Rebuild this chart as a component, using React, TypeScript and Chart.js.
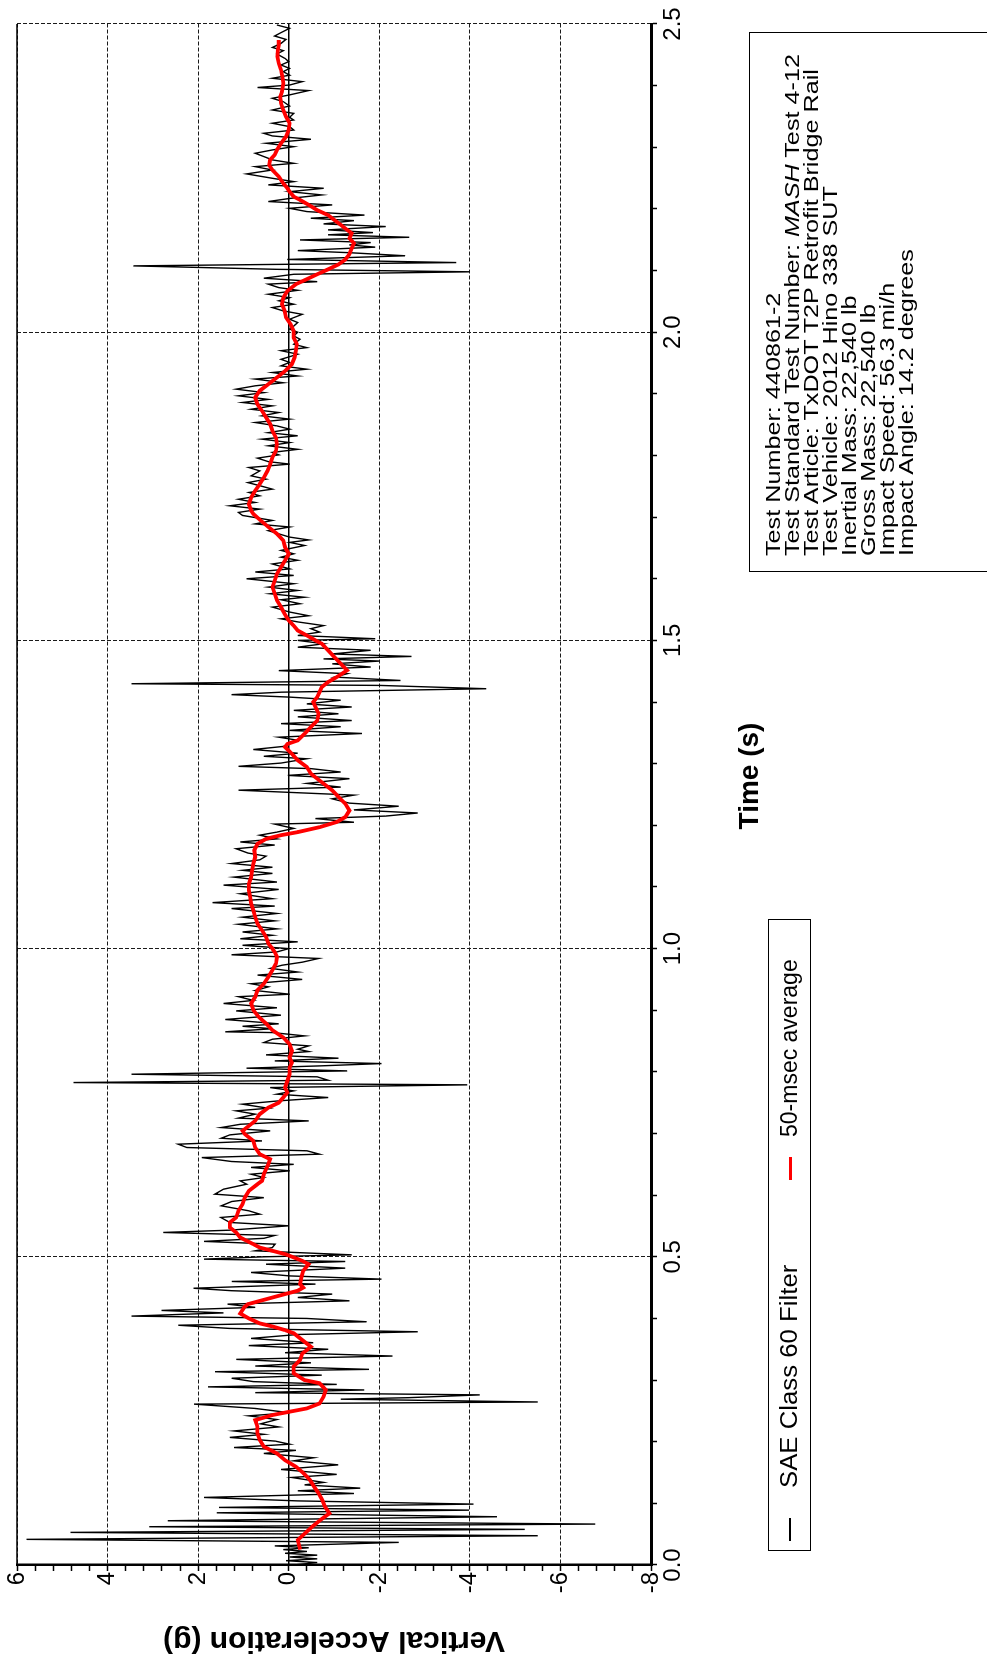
import React, { useEffect, useRef } from "react";
import { Chart, registerables } from "chart.js";

Chart.register(...registerables);

type Pt = [number, number]; // [time (s), vertical acceleration (g)]

// SAE Class 60 filtered vertical acceleration, split by time window
const sae60Part1: Pt[] = [
  [0.000, -0.11], [0.004, -0.63], [0.007, 0.06], [0.010, -0.63], [0.013, -0.02], [0.016, -0.63],
  [0.019, 0.08], [0.022, -0.40], [0.025, 0.12], [0.028, -0.44], [0.031, 0.31], [0.0367, -2.43],
  [0.0416, 5.79], [0.0475, -5.50], [0.0529, 4.82], [0.0578, -5.21], [0.0621, 3.08], [0.0664, -6.77],
  [0.0718, 2.67], [0.0783, -4.60], [0.0826, -0.20], [0.0847, 1.59], [0.089, -3.98], [0.0934, 1.54],
  [0.0988, -4.08], [0.104, -0.20], [0.1096, 1.87], [0.116, -1.44], [0.1204, -0.20], [0.1247, -1.58],
  [0.130, -0.35], [0.134, -0.77], [0.142, -0.07], [0.147, -1.06], [0.155, 0.17], [0.1625, -1.09],
  [0.169, -0.11], [0.174, -0.55], [0.181, 0.55], [0.186, -0.16], [0.1906, 1.21], [0.196, -0.02],
  [0.201, 0.30], [0.207, 1.30], [0.212, 0.55], [0.2175, 1.21], [0.224, 0.22], [0.229, 0.62],
  [0.236, 0.26], [0.242, 0.88], [0.247, -0.02], [0.254, 0.74], [0.261, 2.09], [0.2645, -5.50],
  [0.269, -1.15], [0.2715, -2.66], [0.276, -4.22], [0.2796, 0.74], [0.284, -1.67], [0.289, 1.78],
  [0.293, -1.06], [0.2975, 0.78], [0.303, 1.26], [0.308, -0.73], [0.3136, 1.63], [0.3174, -1.77],
  [0.3228, 0.74], [0.328, -0.49], [0.3336, 1.16], [0.339, -2.29], [0.3444, 0.08], [0.35, -0.87],
  [0.356, 0.88], [0.3606, -0.54], [0.3676, 0.83], [0.374, -0.20], [0.3784, -2.85], [0.3838, 1.30],
  [0.389, 2.44], [0.3946, -1.72], [0.400, -0.40], [0.4038, 3.47], [0.409, 1.44], [0.413, 2.81],
  [0.418, 0.74],
];

const sae60Part2: Pt[] = [
  [0.4232, 1.35], [0.4286, -1.34], [0.434, -0.20], [0.4395, -0.96], [0.445, 1.26], [0.449, 2.10],
  [0.4557, -0.59], [0.460, 1.26], [0.4638, -2.05], [0.469, -0.02], [0.4746, 0.83], [0.4816, -1.25],
  [0.488, 0.50], [0.4924, -1.25], [0.4962, 1.87], [0.500, 0.55], [0.5032, -1.39], [0.5097, 0.74],
  [0.515, 0.36], [0.5205, 0.30], [0.525, 1.87], [0.530, 0.55], [0.5346, 0.31], [0.5395, 2.77],
  [0.5432, 1.30], [0.5503, 0.00], [0.5557, 1.30], [0.5638, 1.50], [0.5692, 0.64], [0.5746, 0.88],
  [0.5827, 1.49], [0.5897, 1.26], [0.596, 0.55], [0.6016, 1.63], [0.6097, 1.44], [0.6178, 0.93],
  [0.6232, 1.07], [0.6286, 0.55], [0.634, 0.83], [0.6395, -0.02], [0.645, 0.83], [0.650, -0.11],
  [0.6546, 1.26], [0.661, 1.92], [0.6665, -0.68], [0.672, -0.40], [0.6773, 2.25], [0.6827, 2.44],
  [0.688, 0.59], [0.6924, 1.49], [0.6978, 1.30], [0.7043, 0.41], [0.7097, 1.49], [0.715, 1.07],
  [0.7205, -0.44], [0.725, 1.11], [0.7314, 0.74], [0.7368, 1.16], [0.741, 0.45], [0.7476, 1.02],
  [0.753, 0.22], [0.7584, -0.87], [0.7638, 0.26], [0.7692, -0.11], [0.7746, 0.41], [0.779, -3.94],
  [0.7827, 4.75], [0.7865, -0.87], [0.792, -0.63], [0.7962, 3.47], [0.8016, -1.29], [0.806, 0.93],
  [0.8097, -0.68], [0.8135, -2.05], [0.8178, 0.31], [0.8222, -1.10], [0.8276, 0.50], [0.833, -0.44],
  [0.8368, -0.20], [0.8422, -0.44], [0.8476, 0.55], [0.853, 0.36], [0.8584, -0.35], [0.8638, 0.36],
];

const sae60Part3: Pt[] = [
  [0.8650, 1.40], [0.870, 0.36], [0.874, 1.02], [0.878, 0.22], [0.885, 1.40], [0.892, 0.17],
  [0.899, 1.16], [0.904, 0.26], [0.911, 1.44], [0.916, 0.78], [0.922, 1.11], [0.926, -0.02],
  [0.932, 0.74], [0.938, 0.45], [0.943, 0.83], [0.950, -0.30], [0.957, 0.69], [0.962, -0.20],
  [0.968, 0.40], [0.973, 0.15], [0.978, -0.30], [0.984, -0.66], [0.990, 1.26], [0.9946, 0.26],
  [1.000, 0.00], [1.0054, 1.02], [1.011, -0.20], [1.016, 1.07], [1.0216, 0.36], [1.027, 1.02],
  [1.032, 0.26], [1.0395, 1.11], [1.045, 0.31], [1.051, 1.02], [1.057, 0.26], [1.065, 1.26],
  [1.069, 0.31], [1.0746, 1.68], [1.081, 0.36], [1.089, 1.07], [1.096, 0.22], [1.103, 1.44],
  [1.108, 0.26], [1.116, 1.21], [1.122, 0.36], [1.127, 1.02], [1.132, 0.36], [1.138, 1.26],
  [1.144, 0.64], [1.150, 0.50], [1.155, 0.90], [1.162, 1.16], [1.168, 0.31], [1.173, 1.07],
  [1.178, 0.26], [1.184, 0.64], [1.189, 0.26], [1.195, -0.11], [1.202, 0.31], [1.205, -1.44],
  [1.211, -0.59], [1.215, -2.14], [1.220, -2.85], [1.225, -1.44], [1.231, -2.43], [1.236, -1.34],
  [1.243, -0.96], [1.249, -1.44], [1.257, 1.11], [1.262, -1.15], [1.268, -0.40],
];

const sae60Part4: Pt[] = [
  [1.2757, -1.34], [1.281, 0.02], [1.2865, -1.15], [1.292, -0.49], [1.2957, 1.11], [1.301, 0.17],
  [1.308, -0.40], [1.312, 0.55], [1.317, -0.20], [1.323, 0.78], [1.328, 0.12], [1.338, -0.20],
  [1.343, 0.22], [1.349, -1.62], [1.354, -0.02], [1.360, -1.15], [1.365, 0.17], [1.370, -1.39],
  [1.376, -0.20], [1.381, -1.10], [1.3865, -0.11], [1.392, -1.39], [1.397, -0.40], [1.403, -1.15],
  [1.408, -0.02], [1.412, 1.26], [1.416, 0.17], [1.4216, -4.36], [1.427, -2.00], [1.4297, 3.47],
  [1.435, -2.47], [1.4405, -1.01], [1.446, -1.29], [1.451, 0.22], [1.4568, -1.81], [1.462, -0.96],
  [1.4665, -2.00], [1.470, -0.77], [1.474, -2.71], [1.478, -0.96], [1.484, -1.81], [1.489, -0.20],
  [1.4946, -0.77], [1.500, -0.20], [1.5027, -1.91], [1.508, -0.20], [1.5135, -0.68], [1.519, -0.49],
  [1.524, -0.77], [1.530, -0.20], [1.535, 0.17], [1.540, -0.44], [1.546, -0.02], [1.554, 0.36],
  [1.5595, -0.25], [1.566, 0.17], [1.570, -0.35], [1.5757, 0.41], [1.581, -0.20], [1.5865, 0.45],
  [1.592, -0.11], [1.600, 0.93], [1.6054, -0.11], [1.611, 0.74], [1.616, -0.02], [1.624, 0.36],
  [1.630, -0.20], [1.635, 0.17], [1.6405, -0.11], [1.646, 0.17], [1.654, -0.35], [1.659, -0.02],
  [1.663, -0.44], [1.6676, -0.02], [1.678, 0.45], [1.684, -0.02], [1.689, 0.74], [1.6946, 0.36],
  [1.7027, 1.02],
];

const sae60Part5: Pt[] = [
  [1.7076, 1.11], [1.713, 0.64], [1.7184, 1.30], [1.7238, 0.74], [1.729, 1.11], [1.7346, 0.64],
  [1.740, 0.88], [1.7454, 0.36], [1.751, 0.64], [1.756, 0.90], [1.7616, 0.50], [1.767, 0.83],
  [1.775, 0.64], [1.7805, 0.88], [1.786, -0.02], [1.790, 0.45], [1.7957, 0.69], [1.801, 0.22],
  [1.805, 0.36], [1.810, -0.20], [1.8157, 0.45], [1.821, -0.02], [1.8265, 0.59], [1.832, -0.20],
  [1.837, 0.45], [1.8427, -0.02], [1.848, 0.26], [1.8535, 0.74], [1.859, -0.02], [1.8643, 0.59],
  [1.8697, 0.22], [1.875, 0.83], [1.8805, 0.36], [1.886, 1.02], [1.891, 0.45], [1.8968, 1.11],
  [1.902, 0.55], [1.9076, 1.16], [1.913, 0.74], [1.918, 0.12], [1.924, 0.74], [1.929, -0.20],
  [1.9346, 0.36], [1.940, -0.40], [1.9454, 0.17], [1.951, -0.02], [1.956, 0.17], [1.9643, -0.20],
  [1.970, 0.17], [1.975, -0.40], [1.9805, -0.11], [1.9886, -0.25], [1.994, -0.11], [2.000, -0.20],
  [2.005, -0.02], [2.010, -0.11], [2.0157, -0.20], [2.021, -0.02], [2.029, -0.30], [2.0346, 0.12],
  [2.040, 0.36], [2.0454, -0.11], [2.051, 0.22], [2.056, -0.02], [2.0616, 0.45], [2.068, -0.20],
  [2.0724, 0.22], [2.078, 0.45], [2.082, -0.63], [2.0876, 0.55], [2.094, -0.11], [2.098, -4.00],
  [2.102, 0.26], [2.1076, 3.43], [2.113, -3.70], [2.118, 0.03], [2.124, -2.57], [2.129, -1.34],
];

const sae60Part6: Pt[] = [
  [2.1324, -0.20], [2.138, -1.91], [2.1416, -1.34], [2.1454, -1.81], [2.1497, -0.25], [2.154, -2.66],
  [2.158, -0.87], [2.1616, -1.86], [2.166, -0.87], [2.1714, -2.14], [2.1757, -0.77], [2.181, -1.44],
  [2.1849, -0.49], [2.190, -1.67], [2.1957, -0.40], [2.201, -0.02], [2.2065, -0.96], [2.212, 0.45],
  [2.217, -0.02], [2.2227, -0.73], [2.228, -0.02], [2.2335, -0.77], [2.239, 0.45], [2.2443, -0.11],
  [2.2497, 0.36], [2.2568, 0.93], [2.2632, 0.36], [2.2686, 0.74], [2.274, -0.11], [2.2795, 0.36],
  [2.285, 0.55], [2.2903, 0.74], [2.2957, 0.36], [2.301, -0.11], [2.3065, 0.50], [2.313, -0.49],
  [2.3184, 0.36], [2.3227, 0.55], [2.328, -0.11], [2.3335, -0.02], [2.339, 0.36], [2.3443, -0.11],
  [2.3486, -0.02], [2.355, -0.11], [2.3605, 0.36], [2.367, -0.02], [2.374, 0.12], [2.3795, 0.36],
  [2.385, -0.02], [2.392, -0.44], [2.397, 0.69], [2.401, -0.02], [2.4065, -0.30], [2.412, 0.36],
  [2.417, -0.02], [2.4227, 0.12], [2.428, -0.02], [2.4335, 0.17], [2.439, 0.00], [2.444, 0.08],
  [2.4514, 0.26], [2.4568, 0.12], [2.462, 0.36], [2.4686, 0.17], [2.475, 0.06], [2.4805, 0.31],
  [2.486, 0.17], [2.493, -0.02], [2.4984, 0.26],
];

// 50-msec moving average of the same signal
const avg50Early: Pt[] = [
  [0.025, -0.25], [0.0406, -0.20], [0.0514, -0.36], [0.0622, -0.52], [0.073, -0.70], [0.0838, -0.90],
  [0.0946, -0.80], [0.1055, -0.74], [0.1163, -0.66], [0.127, -0.56], [0.138, -0.47], [0.1487, -0.33],
  [0.1595, -0.16], [0.170, 0.08], [0.181, 0.26], [0.192, 0.55], [0.203, 0.64], [0.2136, 0.69],
  [0.2244, 0.69], [0.235, 0.74], [0.2433, 0.36], [0.2487, -0.02], [0.254, -0.40], [0.262, -0.68],
  [0.273, -0.77], [0.284, -0.82], [0.295, -0.68], [0.300, -0.35], [0.311, -0.11], [0.322, -0.11],
  [0.3326, -0.25], [0.343, -0.30], [0.354, -0.49], [0.365, -0.30], [0.376, -0.11], [0.381, 0.08],
  [0.387, 0.36], [0.392, 0.64], [0.400, 0.88], [0.408, 1.07], [0.419, 0.97], [0.4232, 0.90],
  [0.434, 0.36], [0.4395, 0.08], [0.445, -0.20], [0.450, -0.32], [0.4557, -0.25], [0.4665, -0.28],
  [0.4773, -0.32], [0.488, -0.44], [0.4935, -0.30], [0.499, -0.11], [0.5043, 0.08], [0.5097, 0.36],
  [0.515, 0.64], [0.5205, 0.78], [0.526, 0.93], [0.5313, 1.07], [0.5395, 1.16], [0.5476, 1.30],
  [0.5557, 1.30], [0.5638, 1.16], [0.5746, 1.11], [0.5854, 1.02], [0.596, 0.97], [0.607, 0.88],
  [0.6178, 0.69], [0.6232, 0.59], [0.634, 0.55], [0.650, 0.45], [0.6584, 0.41], [0.6665, 0.64],
  [0.6773, 0.74], [0.688, 0.78], [0.699, 0.97], [0.7043, 1.02], [0.7124, 0.88], [0.7205, 0.74],
  [0.7314, 0.64], [0.742, 0.45], [0.750, 0.22], [0.7584, 0.12], [0.7665, 0.03], [0.7746, 0.08],
  [0.7854, 0.03], [0.7962, -0.02], [0.807, -0.02], [0.815, -0.07], [0.8232, -0.02], [0.834, -0.07],
  [0.8449, -0.02], [0.8557, 0.12],
];

const avg50Middle: Pt[] = [
  [0.8676, 0.36], [0.8784, 0.50], [0.889, 0.66], [0.900, 0.78], [0.911, 0.83], [0.9216, 0.74],
  [0.9324, 0.69], [0.943, 0.55], [0.954, 0.45], [0.965, 0.36], [0.9757, 0.28], [0.9865, 0.26],
  [0.9946, 0.31], [1.000, 0.36], [1.008, 0.45], [1.019, 0.50], [1.0297, 0.59], [1.0405, 0.69],
  [1.051, 0.74], [1.062, 0.78], [1.073, 0.83], [1.0838, 0.85], [1.0946, 0.88], [1.105, 0.88],
  [1.116, 0.83], [1.127, 0.81], [1.138, 0.78], [1.1486, 0.74], [1.1595, 0.76], [1.170, 0.69],
  [1.178, 0.50], [1.184, 0.17], [1.189, -0.20], [1.197, -0.68], [1.2054, -1.06], [1.2135, -1.25],
  [1.224, -1.34], [1.235, -1.25], [1.246, -1.10], [1.2568, -0.96], [1.2676, -0.77], [1.278, -0.59],
  [1.2838, -0.49], [1.2946, -0.40], [1.3054, -0.20], [1.316, -0.07], [1.327, 0.08], [1.332, 0.03],
  [1.3378, -0.20], [1.3486, -0.35], [1.3595, -0.49], [1.370, -0.63], [1.381, -0.66], [1.392, -0.59],
  [1.400, -0.54], [1.408, -0.63], [1.416, -0.68], [1.4243, -0.73], [1.4324, -0.87], [1.4405, -1.06],
  [1.4514, -1.29], [1.462, -1.15], [1.473, -1.01], [1.4838, -0.87], [1.4946, -0.73], [1.500, -0.59],
  [1.508, -0.40], [1.516, -0.20], [1.524, -0.11], [1.5324, 0.00], [1.543, 0.09], [1.554, 0.17],
  [1.565, 0.26], [1.5757, 0.31], [1.5865, 0.36], [1.597, 0.31], [1.608, 0.26], [1.619, 0.17],
  [1.630, 0.08], [1.6405, 0.00], [1.651, 0.08], [1.662, 0.12], [1.673, 0.26], [1.684, 0.45],
  [1.6946, 0.62], [1.705, 0.78],
];

const avg50Late: Pt[] = [
  [1.7103, 0.83], [1.721, 0.88], [1.732, 0.83], [1.7427, 0.74], [1.7535, 0.64], [1.7643, 0.55],
  [1.775, 0.47], [1.786, 0.41], [1.797, 0.36], [1.8076, 0.28], [1.8184, 0.26], [1.829, 0.28],
  [1.840, 0.36], [1.851, 0.41], [1.8616, 0.50], [1.8724, 0.59], [1.883, 0.69], [1.894, 0.74],
  [1.905, 0.64], [1.9157, 0.45], [1.9265, 0.26], [1.937, 0.08], [1.948, -0.07], [1.959, -0.13],
  [1.970, -0.16], [1.9805, -0.18], [1.991, -0.11], [2.002, -0.11], [2.013, -0.04], [2.024, 0.06],
  [2.0346, 0.09], [2.0454, 0.15], [2.056, 0.12], [2.067, 0.03], [2.078, -0.16], [2.086, -0.40],
  [2.094, -0.63], [2.102, -0.87], [2.110, -1.10], [2.118, -1.25], [2.1265, -1.34], [2.1362, -1.39],
  [2.1443, -1.44], [2.1524, -1.34], [2.1605, -1.39], [2.166, -1.29], [2.174, -1.15], [2.182, -1.01],
  [2.190, -0.87], [2.198, -0.63], [2.2065, -0.44], [2.2146, -0.25], [2.220, -0.11], [2.228, -0.02],
  [2.2335, 0.03], [2.2416, 0.12], [2.2524, 0.22], [2.263, 0.36], [2.271, 0.43], [2.2795, 0.41],
  [2.2876, 0.31], [2.2957, 0.26], [2.3065, 0.17], [2.3173, 0.06], [2.328, 0.00], [2.339, -0.02],
  [2.3497, 0.06], [2.3605, 0.12], [2.3713, 0.17], [2.382, 0.19], [2.3897, 0.15], [2.4038, 0.12],
  [2.4146, 0.14], [2.4254, 0.17], [2.4362, 0.22], [2.447, 0.25], [2.4578, 0.24], [2.466, 0.22],
  [2.474, 0.22],
];

const timeMajorTicks = [0, 0.5, 1, 1.5, 2, 2.5];
const accelMajorTicks = [-8, -6, -4, -2, 0, 2, 4, 6];
const axisTitles = { time: "Time (s)", accel: "Vertical Acceleration (g)" };

const seriesNames = ["SAE Class 60 Filter", "50-msec average"];
const seriesColors = ["#000000", "#ff0000"];

const testInfo: React.ReactNode[] = [
  "Test Number: 440861-2",
  <>Test Standard Test Number: <i>MASH</i> Test 4-12</>,
  "Test Article: TxDOT T2P Retrofit Bridge Rail",
  "Test Vehicle: 2012 Hino 338 SUT",
  "Inertial Mass: 22,540 lb",
  "Gross Mass: 22,540 lb",
  "Impact Speed: 56.3 mi/h",
  "Impact Angle: 14.2 degrees",
];

// The figure is laid out landscape and turned a quarter turn onto the page.
const W = 1660;
const H = 987;
const FONT = '"Liberation Sans", Arial, Helvetica, sans-serif';

const onTick = (v: number, list: number[]) => list.some((m) => Math.abs(m - v) < 1e-6);
const toXY = (pts: Pt[]) => pts.map(([x, y]) => ({ x, y }));

// Solid zero line, solid upper frame edge and the time-axis title
const frameLines = {
  id: "frameLines",
  beforeDatasetsDraw(chart: any) {
    const { ctx, chartArea: a, scales } = chart;
    const y0 = scales.y.getPixelForValue(0);
    ctx.save();
    ctx.strokeStyle = "#000";
    ctx.lineWidth = 1.5;
    ctx.beginPath();
    ctx.moveTo(a.left, y0);
    ctx.lineTo(a.right, y0);
    ctx.moveTo(a.left, a.top);
    ctx.lineTo(a.right, a.top);
    ctx.stroke();
    ctx.restore();
  },
  afterDraw(chart: any) {
    const { ctx, scales } = chart;
    ctx.save();
    ctx.fillStyle = "#000";
    ctx.font = `bold 28px ${FONT}`;
    ctx.textAlign = "center";
    ctx.textBaseline = "middle";
    ctx.fillText(axisTitles.time, scales.x.getPixelForValue(1.28), 750);
    ctx.restore();
  },
};

function AccelChart() {
  const ref = useRef<HTMLCanvasElement>(null);

  useEffect(() => {
    if (!ref.current) return;
    const sae60 = [
      ...sae60Part1, ...sae60Part2, ...sae60Part3,
      ...sae60Part4, ...sae60Part5, ...sae60Part6,
    ];
    const avg50 = [...avg50Early, ...avg50Middle, ...avg50Late];

    const chart = new Chart(ref.current, {
      type: "line",
      data: {
        datasets: [
          {
            label: seriesNames[1],
            data: toXY(avg50),
            borderColor: seriesColors[1],
            borderWidth: 3.8,
            pointRadius: 0,
            tension: 0,
            order: 0,
          },
          {
            label: seriesNames[0],
            data: toXY(sae60),
            borderColor: seriesColors[0],
            borderWidth: 1.4,
            pointRadius: 0,
            tension: 0,
            order: 1,
          },
        ],
      },
      options: {
        animation: false,
        responsive: false,
        maintainAspectRatio: false,
        devicePixelRatio: 1,
        parsing: false,
        normalized: true,
        layout: { padding: { left: 0, right: 24, top: 17, bottom: 0 } },
        plugins: { legend: { display: false }, tooltip: { enabled: false } },
        scales: {
          x: {
            type: "linear",
            min: 0,
            max: 2.5,
            afterFit: (s: any) => {
              s.height = 336;
            },
            ticks: {
              stepSize: 0.1,
              autoSkip: false,
              maxRotation: 0,
              minRotation: 0,
              padding: 2,
              color: "#000",
              font: { family: FONT, size: 24 },
              callback: (v: any) => (onTick(Number(v), timeMajorTicks) ? Number(v).toFixed(1) : ""),
            },
            grid: {
              color: (c: any) => (onTick(c.tick.value, timeMajorTicks) ? "#1a1a1a" : "rgba(0,0,0,0)"),
              lineWidth: 1,
              tickColor: "#000",
              tickLength: 6,
              tickWidth: 1.5,
            },
            border: { display: true, color: "#000", width: 3, dash: [4, 2] },
            title: { display: false },
          },
          y: {
            type: "linear",
            min: -8,
            max: 6,
            afterFit: (s: any) => {
              s.width = 95;
            },
            ticks: {
              stepSize: 0.4,
              autoSkip: false,
              padding: 1,
              color: "#000",
              font: { family: FONT, size: 24 },
              callback: (v: any) => (onTick(Number(v), accelMajorTicks) ? String(Math.round(Number(v))) : ""),
            },
            grid: {
              color: (c: any) => (onTick(c.tick.value, accelMajorTicks) ? "#1a1a1a" : "rgba(0,0,0,0)"),
              lineWidth: 1,
              tickColor: "#000",
              tickLength: 6,
              tickWidth: 1.5,
            },
            border: { display: true, color: "#000", width: 2.5, dash: [4, 2] },
            title: {
              display: true,
              text: axisTitles.accel,
              color: "#000",
              font: { family: FONT, size: 30, weight: "bold" },
              padding: { top: 2, bottom: 0 },
            },
          },
        },
      },
      plugins: [frameLines],
    });
    return () => chart.destroy();
  }, []);

  return (
    <canvas
      ref={ref}
      width={W}
      height={H}
      style={{ position: "absolute", left: 0, top: 0, width: W, height: H }}
    />
  );
}

function Legend() {
  return (
    <div
      style={{
        position: "absolute",
        left: 109,
        top: 768,
        width: 632,
        height: 43,
        border: "1px solid #000",
        boxSizing: "border-box",
        fontFamily: FONT,
        fontSize: 23,
        color: "#000",
      }}
    >
      {seriesNames.map((name, i) => (
        <React.Fragment key={name}>
          <span
            style={{
              position: "absolute",
              left: i === 0 ? 9 : 370,
              top: 20,
              width: 23,
              height: i === 0 ? 1.5 : 3,
              background: seriesColors[i],
            }}
          />
          <span
            style={{
              position: "absolute",
              left: i === 0 ? 62 : 413,
              top: 6,
              lineHeight: "28px",
              whiteSpace: "nowrap",
              transformOrigin: "0 0",
              transform: i === 0 ? "scaleX(1.12)" : "none",
            }}
          >
            {name}
          </span>
        </React.Fragment>
      ))}
    </div>
  );
}

function InfoBox() {
  return (
    <div
      style={{
        position: "absolute",
        left: 1088,
        top: 749,
        width: 540,
        height: 300,
        border: "1px solid #000",
        boxSizing: "border-box",
        padding: "14px 0 0 15px",
        fontFamily: FONT,
        color: "#000",
      }}
    >
      <div
        style={{
          fontSize: 20,
          lineHeight: "19px",
          transformOrigin: "0 0",
          transform: "scaleX(1.26)",
        }}
      >
        {testInfo.map((line, i) => (
          <div key={i} style={{ whiteSpace: "nowrap" }}>
            {line}
          </div>
        ))}
      </div>
    </div>
  );
}

export default function App() {
  return (
    <div
      style={{
        position: "absolute",
        left: 0,
        top: 0,
        width: H,
        height: W,
        overflow: "hidden",
        background: "#fff",
      }}
    >
      <div
        style={{
          position: "absolute",
          left: 0,
          top: 0,
          width: W,
          height: H,
          transformOrigin: "0 0",
          transform: `translate(0px, ${W}px) rotate(-90deg)`,
        }}
      >
        <AccelChart />
        <Legend />
        <InfoBox />
      </div>
    </div>
  );
}
